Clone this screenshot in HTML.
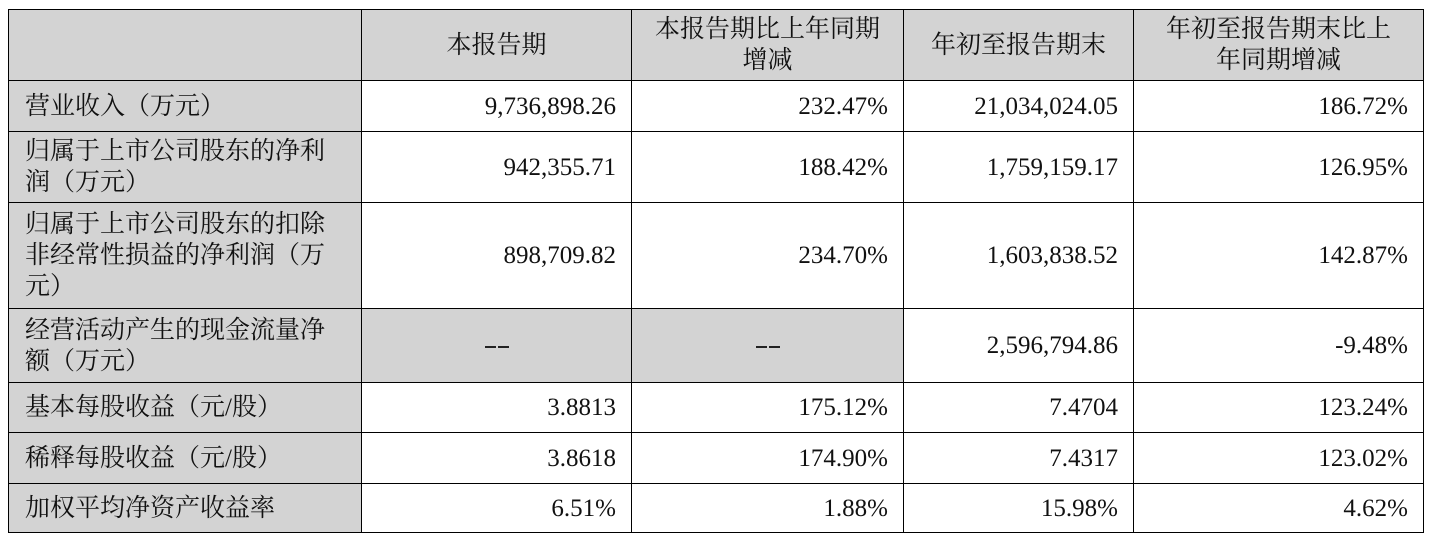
<!DOCTYPE html>
<html><head><meta charset="utf-8"><style>
body{margin:0;background:#fff;width:1433px;height:542px;overflow:hidden}
table{position:absolute;left:8px;top:9px;border-collapse:collapse;table-layout:fixed;font-family:"Liberation Serif","Noto Serif CJK SC",serif;font-size:25px;color:#111}
td{border:1.5px solid #000;padding:0 15px;line-height:25px;vertical-align:middle;text-align:right}
td.h{background:#d3d3d3;text-align:center;line-height:31px;font-size:25px;padding:0 20px}
td.l{background:#d3d3d3;text-align:left;padding:0 20px 0 16px;line-height:31px;font-size:25px}
td.g{background:#d3d3d3;text-align:center}
.d{display:inline-block;width:11px;height:2px;background:#222;margin:0 1px;vertical-align:middle}
</style></head><body>
<table>
<colgroup><col style="width:353px"><col style="width:270px"><col style="width:272px"><col style="width:230px"><col style="width:290px"></colgroup>
<tr style="height:71px"><td class="h"></td><td class="h">本报告期</td><td class="h">本报告期比上年同期增减</td><td class="h">年初至报告期末</td><td class="h">年初至报告期末比上年同期增减</td></tr>
<tr style="height:51px"><td class="l">营业收入（万元）</td><td>9,736,898.26</td><td>232.47%</td><td>21,034,024.05</td><td>186.72%</td></tr>
<tr style="height:71px"><td class="l">归属于上市公司股东的净利润（万元）</td><td>942,355.71</td><td>188.42%</td><td>1,759,159.17</td><td>126.95%</td></tr>
<tr style="height:106px"><td class="l">归属于上市公司股东的扣除非经常性损益的净利润（万元）</td><td>898,709.82</td><td>234.70%</td><td>1,603,838.52</td><td>142.87%</td></tr>
<tr style="height:74px"><td class="l">经营活动产生的现金流量净额（万元）</td><td class="g"><span class="d"></span><span class="d"></span></td><td class="g"><span class="d"></span><span class="d"></span></td><td>2,596,794.86</td><td>-9.48%</td></tr>
<tr style="height:50px"><td class="l">基本每股收益（元/股）</td><td>3.8813</td><td>175.12%</td><td>7.4704</td><td>123.24%</td></tr>
<tr style="height:51px"><td class="l">稀释每股收益（元/股）</td><td>3.8618</td><td>174.90%</td><td>7.4317</td><td>123.02%</td></tr>
<tr style="height:49px"><td class="l">加权平均净资产收益率</td><td>6.51%</td><td>1.88%</td><td>15.98%</td><td>4.62%</td></tr>
</table>
</body></html>
